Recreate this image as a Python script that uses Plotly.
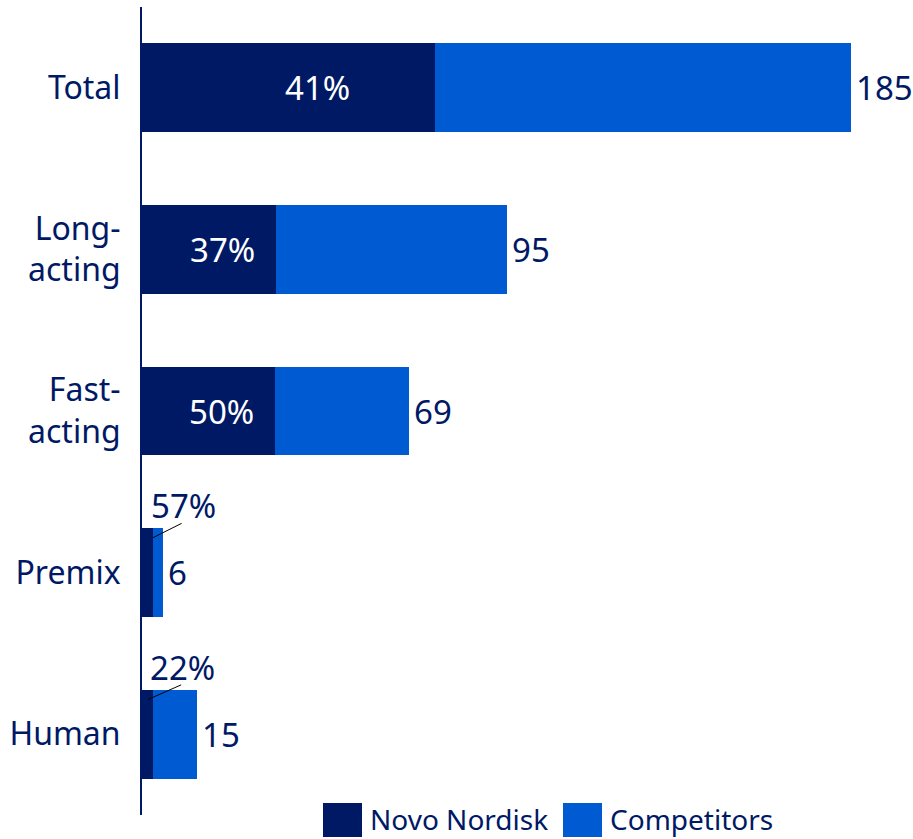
import plotly.graph_objects as go

# categorias e valores
categorias = ['Total', 'Long-<br>acting', 'Fast-<br>acting', 'Premix', 'Human']
novo = [76.5, 35.0, 34.7, 2.9, 2.9]
concorrentes = [108.6, 60.3, 35.0, 2.6, 11.5]
rotulo_total = ['185', '95', '69', '6', '15']
rotulo_pct = ['41%', '37%', '50%', '57%', '22%']

azul_escuro = '#001965'
azul = '#005AD2'
fonte = 'Noto Sans'
tam = 33

fig = go.Figure()
fig.add_trace(go.Bar(y=categorias, x=novo, orientation='h', name='Novo Nordisk',
                     marker=dict(color=azul_escuro, line=dict(width=0))))
fig.add_trace(go.Bar(y=categorias, x=concorrentes, orientation='h', name='Competitors',
                     marker=dict(color=azul, line=dict(width=0))))

# total no fim de cada barra
for c, n, k, t in zip(categorias, novo, concorrentes, rotulo_total):
    fig.add_annotation(x=n + k, y=c, text=t, showarrow=False, xanchor='left', xshift=3,
                       font=dict(color=azul_escuro, size=tam, family=fonte))

# percentual dentro das barras grandes
for i in range(3):
    fig.add_annotation(x=novo[i] * 0.6, y=categorias[i], text=rotulo_pct[i], showarrow=False,
                       font=dict(color='white', size=tam, family=fonte))

# percentuais das barras pequenas com linha de chamada
for i, fx, dx in [(3, 1.0, 30), (4, 0.6, 34)]:
    fig.add_annotation(x=novo[i] * fx, y=categorias[i], yshift=35, text='', showarrow=True,
                       arrowhead=0, arrowwidth=1, arrowcolor='black', ax=dx, ay=-15)
    fig.add_annotation(x=novo[i] * fx, y=categorias[i], xshift=dx, yshift=67,
                       text=rotulo_pct[i], showarrow=False,
                       font=dict(color=azul_escuro, size=tam, family=fonte))

# legenda feita a mao (quadrados grandes)
legenda = [('Novo Nordisk', azul_escuro, 323), ('Competitors', azul, 563)]
for nome, cor, px0 in legenda:
    fig.add_shape(type='rect', xref='paper', yref='paper',
                  x0=(px0 - 142) / 766, x1=(px0 + 39 - 142) / 766,
                  y0=(815 - 837) / 808, y1=(815 - 803) / 808,
                  fillcolor=cor, line=dict(width=0))
    fig.add_annotation(xref='paper', yref='paper', x=(px0 + 45 - 142) / 766,
                       y=(815 - 819) / 808, text=nome, showarrow=False,
                       xanchor='left', yanchor='middle',
                       font=dict(color=azul_escuro, size=28, family=fonte))

fig.update_layout(
    barmode='stack', bargap=0.45, showlegend=False,
    width=913, height=839, margin=dict(l=142, r=5, t=7, b=24),
    plot_bgcolor='white', paper_bgcolor='white',
    font=dict(family=fonte, color=azul_escuro, size=tam),
)
fig.update_xaxes(range=[0, 200], visible=False)
fig.update_yaxes(range=[4.5, -0.5], showline=True, linecolor=azul_escuro, linewidth=2,
                 showgrid=False, ticks='', ticklabelstandoff=13, automargin=False,
                 tickfont=dict(size=32, color=azul_escuro, family=fonte))

# tira a margem padrao do body para a figura caber na janela
fig.write_html('out.html', config={'displayModeBar': False},
               post_script="document.body.style.margin='0';")
